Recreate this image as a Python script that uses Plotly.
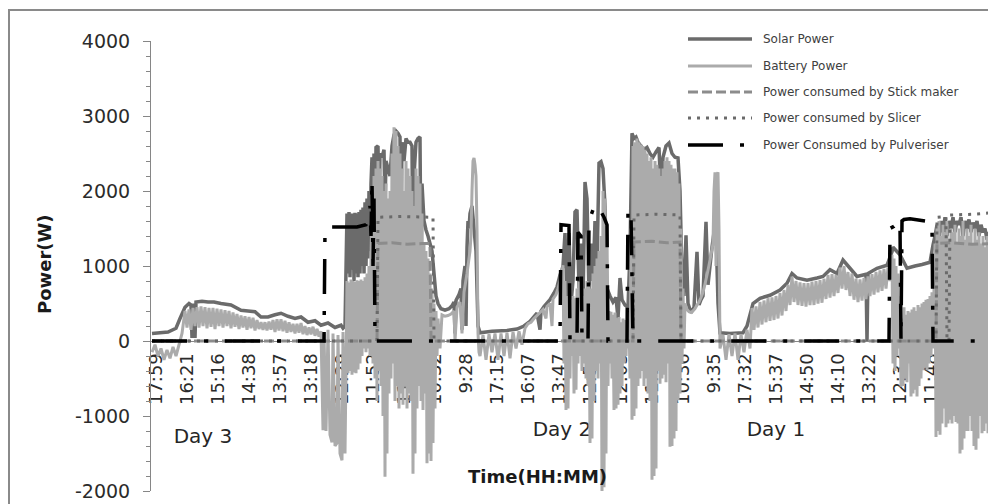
import plotly.graph_objects as go

# ---------------- data (sample index, watts) ----------------
tick_labels = ["17:59", "16:21", "15:16", "14:38", "13:57", "13:18", "12:29", "11:52", "11:12",
               "10:32", "9:28", "17:15", "16:07", "13:47", "12:58", "12:05", "11:16", "10:36",
               "9:35", "17:32", "15:37", "14:50", "14:10", "13:22", "12:32", "11:48", "11:05"]
first_labelled_sample = 4
samples_per_label = 31
y_ticks = [-2000, -1000, 0, 1000, 2000, 3000, 4000]
y_tick_text = ["-2000", "-1000", "0", "1000", "2000", "3000", "4000"]

solar_power = [
    (0, 100), (16, 120), (24, 170), (28, 300), (33, 450), (37, 500), (39, 480), (40, 40), (41, 500), (43, 40),
    (44, 520), (50, 530), (56, 520), (62, 520), (69, 500), (79, 480), (89, 410), (96, 400), (103, 390), (109, 320),
    (116, 320), (123, 350), (129, 370), (136, 330), (143, 300), (149, 320), (156, 250), (163, 270), (169, 210),
    (176, 240), (183, 180), (189, 210), (191, 170), (193, 200),
    (195, 1700), (196, 900), (197, 1720), (198, 850), (199, 1700), (200, 950), (201, 1700), (202, 800), (203, 1710),
    (204, 900), (205, 1700), (206, 850), (207, 1720), (208, 900), (209, 1750), (210, 1000), (211, 1780), (212, 900),
    (213, 1850), (214, 1000), (215, 1900), (216, 1100), (217, 2000), (218, 1200), (219, 2100),
    (220, 2450), (221, 1500), (222, 2500), (223, 1600), (224, 2580), (226, 2600), (227, 1700), (228, 2500),
    (230, 2450), (232, 2550), (233, 1800), (234, 2400), (236, 2300), (238, 2200), (240, 2600), (242, 2750),
    (244, 2800), (246, 2770), (248, 2720), (249, 1500), (250, 2650), (252, 2400), (254, 2700), (256, 2650),
    (258, 2650), (260, 2600), (261, 900), (262, 2200), (264, 2650), (266, 2700), (268, 2720), (269, 950),
    (270, 2100), (272, 1600), (274, 1480), (276, 1400), (278, 1300), (280, 1200), (282, 900), (284, 600), (286, 500),
    (289, 430), (293, 410), (297, 430), (300, 470), (302, 520), (303, 100), (304, 540), (307, 620), (309, 700),
    (310, 150), (311, 800), (313, 1000), (314, 200), (315, 1250), (316, 1600), (317, 1500), (318, 1700), (320, 1800),
    (322, 1500), (324, 1200), (326, 200), (328, 110),
    (340, 130), (355, 140), (365, 160), (372, 200), (378, 260), (385, 370), (388, 150), (389, 400), (392, 460),
    (398, 550), (402, 640), (405, 720), (408, 880), (410, 950),
    (411, 1000), (413, 1440), (415, 600), (417, 1440), (419, 500), (421, 800), (423, 1720), (425, 1750), (427, 700),
    (429, 1300), (431, 500), (433, 2120), (435, 1900), (437, 600), (439, 1300), (441, 800), (443, 1600), (445, 1000),
    (447, 2370), (449, 2390), (451, 2300), (453, 1800), (455, 700), (458, 600), (461, 520), (464, 580), (466, 300),
    (468, 840), (470, 550), (473, 480), (476, 450), (478, 1200), (480, 2770), (482, 2700), (484, 2720), (486, 2650),
    (489, 2600), (492, 2550), (495, 2580), (498, 2500), (501, 2450), (504, 2520), (507, 2580), (509, 1900),
    (511, 2450), (514, 2600), (517, 2640), (520, 2500), (523, 2450), (526, 2440), (528, 2000), (530, 900), (532, 600),
    (534, 1410), (536, 500), (538, 420), (540, 400), (542, 450), (545, 1190), (547, 480), (549, 550), (551, 600),
    (554, 1590), (556, 750), (558, 1000), (560, 1250), (562, 1450), (564, 1500), (566, 500), (568, 110),
    (578, 100), (591, 110), (595, 200), (601, 500), (608, 570), (618, 610), (628, 680), (635, 770), (640, 900),
    (645, 840), (655, 810), (665, 840), (671, 860), (678, 950), (685, 900), (691, 1080), (698, 970), (705, 860),
    (714, 890), (715, 0), (716, 900), (725, 970), (735, 1010), (740, 1190), (741, 1250), (748, 1150), (755, 970),
    (763, 1000), (770, 1020), (778, 1050), (781, 1280),
    (783, 1400), (785, 1550), (787, 1350), (789, 1600), (791, 1450), (793, 1650), (795, 1400), (797, 1600),
    (799, 1500), (801, 1650), (803, 1450), (805, 1600), (807, 1550), (809, 1650), (811, 1400), (813, 1600),
    (815, 1500), (817, 1620), (819, 1450), (821, 1580), (823, 1500), (825, 1600), (827, 1400), (829, 1550),
    (831, 1450), (833, 1500), (835, 1350), (837, 1450), (839, 1400), (841, 1450),
]

battery_power = [
    (0, -150), (3, -50), (6, -200), (9, -100), (12, -250), (15, -120), (18, -230), (21, -80), (24, -200), (27, -50),
    (30, 100), (32, 300),
    (33, 400), (35, 180), (37, 420), (39, 150), (41, 440), (43, 200), (45, 450), (47, 180), (49, 460), (51, 200),
    (53, 450), (55, 170), (57, 440), (59, 190), (61, 440), (63, 160), (65, 430), (67, 200), (69, 420), (71, 180),
    (73, 410), (75, 200), (77, 400), (79, 170), (81, 380), (83, 190), (85, 360), (87, 160), (89, 340), (91, 180),
    (93, 330), (95, 150), (97, 320), (99, 170), (101, 310), (103, 140), (105, 280), (107, 160), (109, 250),
    (111, 150), (113, 250), (115, 140), (117, 260), (119, 150), (121, 280), (123, 120), (125, 290), (127, 140),
    (129, 290), (131, 130), (133, 270), (135, 110), (137, 250), (139, 120), (141, 230), (143, 100), (145, 230),
    (147, 110), (149, 240), (151, 90), (153, 200), (155, 80), (157, 180), (159, 90), (161, 190), (163, 70),
    (165, 160), (167, 60), (169, 130),
    (171, -1190), (172, 100), (174, -1200), (176, 150), (178, -1250), (180, -1350), (181, 100), (183, -1400),
    (185, -1360), (186, 80), (188, -1500), (190, -1590), (191, 120), (193, -1500), (194, -400),
    (195, 800), (196, -430), (197, 780), (198, -400), (199, 820), (200, -450), (201, 800), (202, -420), (203, 790),
    (204, -430), (205, 810), (206, -380), (207, 800), (208, -300), (209, 820), (210, -200), (211, 800), (212, -100),
    (213, 850), (214, -150), (215, 900), (216, -100), (217, 1000), (218, -200), (219, 1100),
    (220, 1800), (221, -300), (222, 2200), (223, -500), (224, 2300), (225, -800), (226, 2400), (227, -400),
    (228, 2300), (229, -600), (230, 2200), (231, -1000), (232, 2000), (233, -1810), (234, 2100), (235, -1500),
    (236, 1900), (237, -700), (238, 2000), (239, -500), (240, 2500), (241, -300), (242, 2850), (243, -800),
    (244, 2800), (245, -600), (246, 2600), (247, -900), (248, 2500), (249, -700), (250, 2300), (251, -850),
    (252, 2000), (253, -600), (254, 2400), (255, -900), (256, 2300), (257, -700), (258, 2200), (259, -800),
    (260, 2000), (261, -1770), (262, 1800), (263, -1500), (264, 2300), (265, -900), (266, 2200), (267, -600),
    (268, 2100), (269, -800), (270, 1700), (271, -920), (272, 1300), (273, -700), (274, 1200), (275, -1630),
    (276, 1100), (277, -1500), (278, 900), (279, -1600), (280, 700), (281, -1360), (282, 500), (283, -900),
    (284, 400), (285, -200),
    (286, 300), (288, -100), (290, 350), (293, 330), (296, 340), (299, 360), (302, 400), (303, 0), (305, 450),
    (308, 520), (310, 100), (312, 650), (315, 900), (318, 1200), (319, 1400), (320, 2000), (321, 2400), (322, 2440),
    (323, 2350), (324, 2200), (325, 1500), (326, 100), (327, -150),
    (328, -200), (331, 80), (334, -250), (337, 90), (340, -150), (343, 100), (346, -250), (349, 100), (352, -200),
    (355, 110), (358, -230), (361, 120), (364, -100), (367, 130), (370, -50), (373, 170), (376, 230), (379, 250),
    (382, 300), (385, 340), (388, 380), (391, 420), (394, 300), (395, 460), (398, 500), (400, 200), (401, 560),
    (404, 620), (406, 700), (408, 800), (410, 900),
    (411, 1010), (412, -300), (413, 800), (414, -920), (415, 600), (416, -900), (417, 570), (418, -500), (419, 550),
    (420, -200), (421, 600), (422, -700), (423, 570), (424, -650), (425, 700), (426, -300), (427, 790), (428, -200),
    (429, 780), (430, -400), (431, 600), (432, -300), (433, 700), (434, -500), (435, 800), (436, -600), (437, 750),
    (438, -1360), (439, 700), (440, -1300), (441, 900), (442, -800), (443, 1000), (444, -400), (445, 1100),
    (446, -500), (447, 1200), (448, -300), (449, 1400), (450, -2000), (451, 2000), (452, -1950), (453, 1900),
    (454, -1500), (455, 1550), (456, -600), (457, 400), (458, -300), (459, 390), (460, -500), (461, 350),
    (462, -920), (463, 380), (464, -900), (465, 300), (466, -850), (467, 320), (468, -700), (469, 250), (470, -600),
    (471, 300), (472, -300), (473, 280), (474, -200), (475, 260), (476, -100), (477, 300), (478, -500), (479, 1500),
    (480, -1050), (481, 2600), (482, -1000), (483, 2650), (484, -900), (485, 2700), (486, -600), (487, 2650),
    (488, -500), (489, 2620), (490, -400), (491, 2600), (492, -600), (493, 2550), (494, -500), (495, 2500),
    (496, -700), (497, 2400), (498, -800), (499, 2450), (500, -1850), (501, 2300), (502, -1800), (503, 2400),
    (504, -1700), (505, 2350), (506, -400), (507, 2300), (508, -570), (509, 2200), (510, -500), (511, 2300),
    (512, -450), (513, 2400), (514, -550), (515, 2450), (516, -300), (517, 2400), (518, -1410), (519, 2350),
    (520, -1400), (521, 2300), (522, -1300), (523, 2300), (524, -1200), (525, 2250), (526, -790), (527, 2100),
    (528, -700), (529, 1500), (530, -300), (531, 700), (532, -100), (533, 500), (535, 420), (537, 390), (539, 380),
    (541, 400), (543, 430), (545, 480), (547, 520), (549, 580), (551, 650), (553, 760), (555, 880), (557, 1010),
    (559, 1150), (561, 1300), (562, 2000), (563, 2250), (564, 1000), (565, 2200), (566, 2250), (567, 1500),
    (568, -100),
    (571, 80), (574, -250), (577, 90), (580, -200), (583, 100), (586, -250), (589, 90), (592, -150), (595, 150),
    (598, -100),
    (600, 440), (602, 150), (604, 460), (606, 180), (608, 520), (610, 220), (612, 540), (614, 250), (616, 570),
    (618, 270), (620, 580), (622, 280), (624, 600), (626, 300), (628, 640), (630, 340), (632, 680), (634, 400),
    (636, 750), (638, 480), (640, 860), (642, 520), (644, 800), (646, 480), (648, 780), (650, 470), (652, 770),
    (654, 460), (656, 770), (658, 480), (660, 790), (662, 480), (664, 800), (666, 500), (668, 810), (670, 510),
    (672, 830), (674, 560), (676, 880), (678, 580), (680, 890), (682, 600), (684, 880), (686, 640), (688, 980),
    (690, 700), (692, 1000), (694, 680), (696, 920), (698, 600), (700, 900), (702, 550), (704, 830), (706, 520),
    (708, 820), (710, 540), (712, 840), (714, 560), (716, 860), (718, 600), (720, 890), (722, 620), (724, 920),
    (726, 650), (728, 940), (730, 670), (732, 960), (734, 700), (736, 980), (738, 800), (740, 1150),
    (741, -300), (742, 1100), (743, -400), (744, 1000), (745, -200), (746, 900), (747, -100), (748, 600),
    (749, -610), (750, 300), (751, -600), (752, 450), (753, -500), (754, 350), (755, -550), (756, 400), (757, -300),
    (758, 380), (759, -740), (760, 420), (761, -700), (762, 450), (763, -650), (764, 400), (765, -740), (766, 480),
    (767, -600), (768, 450), (769, -500), (770, 500), (771, -390), (772, 520), (773, -350), (774, 550), (775, -390),
    (776, 560), (777, -300), (778, 600), (779, -200), (780, 650), (781, -100), (782, 700),
    (783, 1300), (784, -1280), (785, 1500), (786, -1200), (787, 1600), (788, -1250), (789, 1400), (790, -1100),
    (791, 1550), (792, -900), (793, 1450), (794, -1150), (795, 1600), (796, -1100), (797, 1300), (798, -1050),
    (799, 1500), (800, -1100), (801, 1450), (802, -1000), (803, 1550), (804, -1080), (805, 1300), (806, -1100),
    (807, 1500), (808, -1500), (809, 1400), (810, -1450), (811, 1600), (812, -1300), (813, 1350), (814, -1200),
    (815, 1500), (816, -1200), (817, 1400), (818, -1000), (819, 1550), (820, -1200), (821, 1300), (822, -1400),
    (823, 1500), (824, -1450), (825, 1350), (826, -1300), (827, 1450), (828, -1000), (829, 1300), (830, -1230),
    (831, 1400), (832, -1200), (833, 1250), (834, -1100), (835, 1400), (836, -1230), (837, 1300), (838, -1000),
    (839, 1350), (840, -1100), (841, 1300),
]

stick_maker_power = [
    (0, 0), (225, 0), (226, 1300), (240, 1310), (255, 1290), (270, 1300), (278, 1300), (279, 0),
    (481, 0), (482, 1320), (500, 1330), (515, 1310), (528, 1320), (529, 0),
    (784, 0), (785, 1300), (800, 1310), (820, 1290), (841, 1300),
]

slicer_power = [
    (0, 0), (225, 0), (226, 1650), (250, 1660), (281, 1650), (282, 0),
    (481, 0), (482, 1680), (505, 1690), (528, 1680), (529, 0),
    (784, 0), (785, 1650), (794, 1660), (795, 0), (797, 0), (798, 1680), (820, 1690), (841, 1710),
]

pulveriser_power = [
    (0, 0), (172, 0), (173, 1500), (176, 1520), (190, 1520), (205, 1520), (214, 1550), (216, 1600), (218, 1800),
    (219, 1400), (220, 2150), (221, 1000), (222, 1900), (223, 0),
    (408, 0), (409, 1550), (417, 1540), (418, 0), (425, 0), (426, 1450), (429, 1400), (430, 0), (436, 0),
    (437, 1600), (441, 1750), (444, 1820), (448, 1750), (452, 1650), (455, 1550), (456, 0), (475, 0), (476, 1760),
    (479, 1700), (481, 0),
    (737, 0), (738, 1500), (742, 1530), (745, 1570), (747, 1600), (748, 1550), (749, 0), (750, 1600), (752, 1620),
    (758, 1630), (768, 1610), (778, 1590), (780, 1570), (781, 0), (843, 0),
]

series_names = ["Solar Power", "Battery Power", "Power consumed by Stick maker",
                "Power consumed by Slicer", "Power Consumed by Pulveriser"]
day_labels = ["Day 3", "Day 2", "Day 1"]

# ---------------- layout geometry ----------------
# The page body has an 8px default margin, so the figure is sized to fit the
# 996x504 window from (8, 8); positions below are given in window pixels.
PAGE_OFFSET = 8
W, H = 996 - PAGE_OFFSET, 504 - PAGE_OFFSET
PLOT_LEFT, PLOT_RIGHT, PLOT_TOP, PLOT_BOTTOM = 151, 995, 41, 491   # window pixels
ML = PLOT_LEFT - PAGE_OFFSET
MR = W - (PLOT_RIGHT - PAGE_OFFSET)
MT = PLOT_TOP - PAGE_OFFSET
MB = H - (PLOT_BOTTOM - PAGE_OFFSET)
PW, PH = PLOT_RIGHT - PLOT_LEFT, PLOT_BOTTOM - PLOT_TOP


def px_x(px):
    return (px - PLOT_LEFT) / PW


def px_y(py):
    return (PLOT_BOTTOM - py) / PH


FONT = "DejaVu Sans"
styles = [
    dict(color="#6b6b6b", width=3.5, dash="solid"),
    dict(color="#ababab", width=3, dash="solid"),
    dict(color="#8c8c8c", width=3, dash="10px,4px"),
    dict(color="#6a6a6a", width=3, dash="3px,6px"),
    dict(color="#000000", width=3.5, dash="35px,17px,4px,17px"),
]
all_series = [solar_power, battery_power, stick_maker_power, slicer_power, pulveriser_power]

fig = go.Figure()
for name, data, st in zip(series_names, all_series, styles):
    xs = [p[0] for p in data]
    ys = [p[1] for p in data]
    fig.add_trace(go.Scatter(x=xs, y=ys, mode="lines", name=name, showlegend=False,
                             line=dict(color=st["color"], width=st["width"], dash=st["dash"],
                                       simplify=False)))

tick_positions = [first_labelled_sample + samples_per_label * i for i in range(len(tick_labels))]

shapes = []
annotations = []

# outer chart border
shapes.append(dict(type="rect", xref="paper", yref="paper", x0=px_x(9), x1=px_x(1010),
                   y0=px_y(520), y1=px_y(10), line=dict(color="#8a8a8a", width=2),
                   fillcolor="rgba(0,0,0,0)", layer="above"))

# legend with long swatches as in the source
legend_rows = [39, 66, 92, 118, 145]
for name, st, ry in zip(series_names, styles, legend_rows):
    shapes.append(dict(type="line", xref="paper", yref="paper", x0=px_x(688), x1=px_x(752),
                       y0=px_y(ry), y1=px_y(ry),
                       line=dict(color=st["color"], width=st["width"], dash=st["dash"])))
    annotations.append(dict(xref="paper", yref="paper", x=px_x(761), y=px_y(ry), text=name,
                            showarrow=False, xanchor="left", yanchor="middle",
                            font=dict(family=FONT, size=12, color="#404040")))

# day labels, drawn beneath the data like in the source
for lab, (cx, cy) in zip(day_labels, [(203, 435), (562, 428), (776, 428)]):
    shapes.append(dict(type="rect", xref="paper", yref="paper", x0=px_x(cx - 40), x1=px_x(cx + 40),
                       y0=px_y(cy + 14), y1=px_y(cy - 14), line=dict(width=0),
                       fillcolor="rgba(0,0,0,0)", layer="below",
                       label=dict(text=lab, textposition="middle center",
                                  font=dict(family=FONT, size=20, color="#262626"))))

annotations.append(dict(xref="paper", yref="paper", x=px_x(44), y=px_y(264), text="<b>Power(W)</b>",
                        textangle=-90, showarrow=False, xanchor="center", yanchor="middle",
                        font=dict(family=FONT, size=18, color="#1a1a1a")))
annotations.append(dict(xref="paper", yref="paper", x=px_x(537), y=px_y(476), text="<b>Time(HH:MM)</b>",
                        showarrow=False, xanchor="center", yanchor="middle",
                        font=dict(family=FONT, size=18, color="#1a1a1a")))

fig.update_layout(
    width=W, height=H,
    margin=dict(l=ML, r=MR, t=MT, b=MB, pad=0, autoexpand=False),
    paper_bgcolor="white", plot_bgcolor="white",
    showlegend=False,
    shapes=shapes, annotations=annotations,
    xaxis=dict(range=[-1, 843], tickmode="array", tickvals=tick_positions, ticktext=tick_labels,
               tickangle=-90, anchor="free", position=1 / 3, showgrid=False, zeroline=False,
               showline=True, linecolor="#868686", linewidth=1, ticks="", automargin=False,
               ticklabelstandoff=4, layer="below traces",
               tickfont=dict(family=FONT, size=18, color="#2b2b2b")),
    yaxis=dict(range=[-2000, 4000], tickmode="array", tickvals=y_ticks, ticktext=y_tick_text,
               showgrid=False, zeroline=False, showline=True, linecolor="#868686", linewidth=1,
               ticks="outside", ticklen=7, tickcolor="#868686", ticklabelstandoff=9, automargin=False,
               minor=dict(dtick=200, tick0=0, ticks="outside", ticklen=4, tickcolor="#868686"),
               tickfont=dict(family=FONT, size=19, color="#2b2b2b")),
)

fig.write_html("out.html")
